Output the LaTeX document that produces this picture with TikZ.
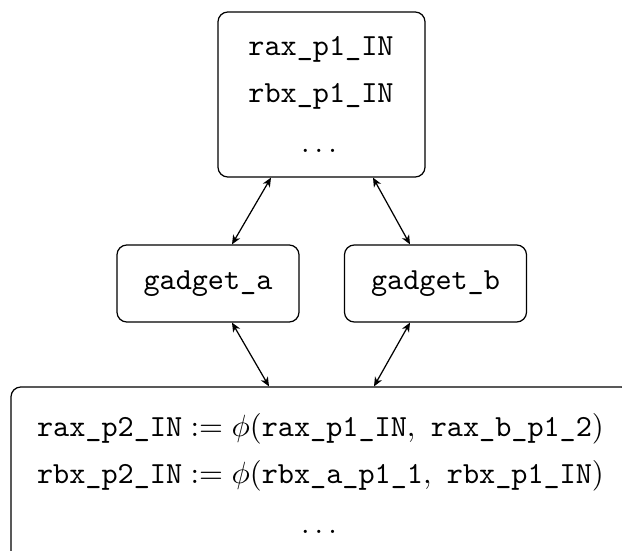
\documentclass[tikz,border=0pt]{standalone}
\usetikzlibrary{calc,arrows.meta}
% spaced ellipsis in the roman font
\newcommand{\spaceddots}{\textrm{.\kern1.67pt.\kern1.67pt.}}
\begin{document}
\begin{tikzpicture}[x=0.3257pt,y=-0.3257pt,
  box/.style={draw, line width=0.4pt, rounded corners=3.2pt, inner sep=0pt},
  entry/.style={anchor=base, inner sep=0pt},
  link/.style={{Stealth[length=3pt,width=2.6pt,inset=0.9pt]}-{Stealth[length=3pt,width=2.6pt,inset=0.9pt]}, line width=0.4pt}]
\useasboundingbox (0,0) rectangle (622,551);

% register box of the first phase
\node[box, minimum width=67.42pt, minimum height=53.74pt] (phaseone) at (321.5,94.5) {};
\node[entry] (p1a) at (321,56)  {\texttt{rax\_p1\_IN}};
\node[entry] (p1b) at (321,102) {\texttt{rbx\_p1\_IN}};
\node[entry] (p1c) at (319,153) {\spaceddots};

% gadgets
\node[box, minimum width=59.28pt, minimum height=25.08pt, font=\ttfamily] (ga) at (208,283.5) {gadget\_a};
\node[box, minimum width=59.28pt, minimum height=25.08pt, font=\ttfamily] (gb) at (435.5,283.5) {gadget\_b};

% register box of the second phase
\node[box, minimum width=201.93pt, minimum height=58.30pt] (phasetwo) at (321,476.5) {};
\node[entry] (p2a) at (320.5,436) {$\texttt{rax\_p2\_IN} := \phi(\texttt{rax\_p1\_IN},\ \texttt{rax\_b\_p1\_2})$};
\node[entry] (p2b) at (320.5,483) {$\texttt{rbx\_p2\_IN} := \phi(\texttt{rbx\_a\_p1\_1},\ \texttt{rbx\_p1\_IN})$};
\node[entry] (p2c) at (319,533) {\spaceddots};

% connections
\draw[link] ($(phaseone.south)+(-50.5,0)$) -- ($(ga.north)+(24,0)$);
\draw[link] ($(phaseone.south)+(51.5,0)$) -- ($(gb.north)+(-25.5,0)$);
\draw[link] ($(ga.south)+(24,0)$) -- ($(phasetwo.north)+(-52,0)$);
\draw[link] ($(gb.south)+(-25.5,0)$) -- ($(phasetwo.north)+(53,0)$);
\end{tikzpicture}
\end{document}
